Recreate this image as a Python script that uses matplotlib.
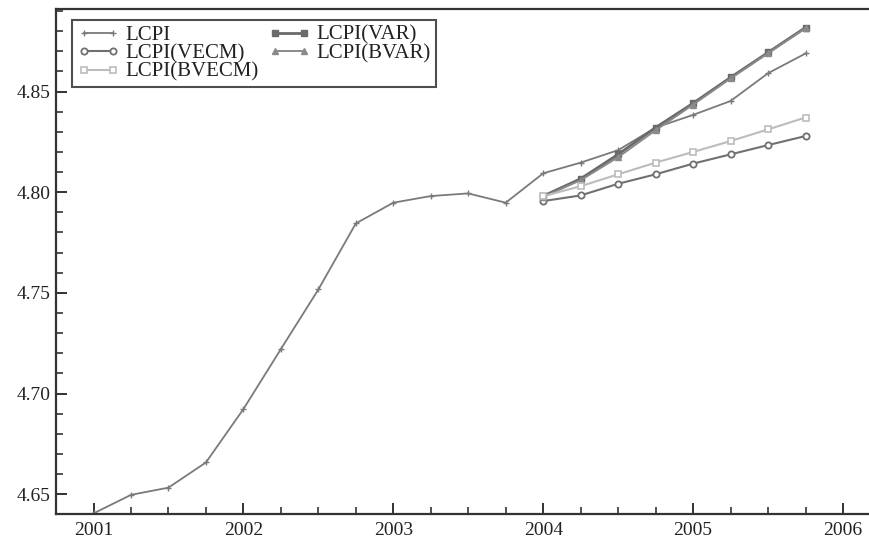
import matplotlib
matplotlib.use("Agg")
import matplotlib.pyplot as plt
from matplotlib.ticker import MultipleLocator

plt.rcParams['font.family'] = ['Liberation Serif', 'DejaVu Serif']

hist_t = [2001.0, 2001.25, 2001.5, 2001.75, 2002.0, 2002.25, 2002.5, 2002.75,
          2003.0, 2003.25, 2003.5, 2003.75, 2004.0, 2004.25, 2004.5, 2004.75,
          2005.0, 2005.25, 2005.5, 2005.75]
lcpi = [4.6405, 4.6497, 4.6533, 4.6658, 4.6923, 4.7221, 4.7517, 4.7845,
        4.7948, 4.7981, 4.7994, 4.7948, 4.8094, 4.8147, 4.8209, 4.8321,
        4.8384, 4.8453, 4.8591, 4.8689]

fc_t = [2004.0, 2004.25, 2004.5, 2004.75, 2005.0, 2005.25, 2005.5, 2005.75]
lcpi_var = [4.7981, 4.8067, 4.8188, 4.8321, 4.8442, 4.8570, 4.8694, 4.8818]
lcpi_vecm = [4.7956, 4.7984, 4.8042, 4.8089, 4.8142, 4.8188, 4.8234, 4.8279]
lcpi_bvar = [4.7976, 4.8060, 4.8174, 4.8308, 4.8435, 4.8565, 4.8690, 4.8814]
lcpi_bvecm = [4.7980, 4.8030, 4.8089, 4.8147, 4.8200, 4.8254, 4.8312, 4.8371]

fig = plt.figure(figsize=(8.7, 5.41), dpi=100)
ax = fig.add_axes([0.0644, 0.0499, 0.9356, 0.9335])

h_lcpi, = ax.plot(hist_t, lcpi, color='#7a7a7a', lw=1.3, marker='+', ms=5, mew=1.0, label='LCPI')
h_var, = ax.plot(fc_t, lcpi_var, color='#6a6a6a', lw=2.0, marker='s', ms=4.5, label='LCPI(VAR)')
h_vecm, = ax.plot(fc_t, lcpi_vecm, color='#707070', lw=1.5, marker='o', ms=4.5, mfc='white',
                  mew=1.3, label='LCPI(VECM)')
h_bvar, = ax.plot(fc_t, lcpi_bvar, color='#8a8a8a', lw=1.4, marker='^', ms=4.5, label='LCPI(BVAR)')
h_bvecm, = ax.plot(fc_t, lcpi_bvecm, color='#bcbcbc', lw=1.5, marker='s', ms=4, mfc='white',
                   mew=1.2, label='LCPI(BVECM)')

ax.set_xlim(2000.75, 2006.18)
ax.set_ylim(4.6402, 4.891)

ax.xaxis.set_major_locator(MultipleLocator(1))
ax.xaxis.set_minor_locator(MultipleLocator(0.25))
ax.yaxis.set_major_locator(MultipleLocator(0.05))
ax.yaxis.set_minor_locator(MultipleLocator(0.01))
ax.set_xticks([2001, 2002, 2003, 2004, 2005, 2006])
ax.set_xticklabels(['2001', '2002', '2003', '2004', '2005', '2006'])
ax.yaxis.set_major_formatter(matplotlib.ticker.FormatStrFormatter('%.2f'))

ax.tick_params(which='major', direction='in', length=8, width=1.3, labelsize=14,
               colors='#222222')
ax.tick_params(which='minor', direction='in', length=5, width=1.1, colors='#222222')
ax.tick_params(axis='x', pad=6)
ax.tick_params(axis='y', pad=4)

ax.spines['right'].set_visible(False)
for s in ['left', 'bottom', 'top']:
    ax.spines[s].set_linewidth(1.6)
    ax.spines[s].set_color('#333333')

handles = [h_lcpi, h_vecm, h_bvecm, h_var, h_bvar]
labels = [h.get_label() for h in handles]
leg = ax.legend(handles, labels, loc='upper left', bbox_to_anchor=(0.0197, 0.978),
                borderaxespad=0, ncol=2, fontsize=15, frameon=True, fancybox=False,
                numpoints=2, handlelength=2.0, handletextpad=0.3, labelspacing=-0.05,
                columnspacing=0.5, borderpad=0.25)
leg.get_frame().set_edgecolor('#222222')
leg.get_frame().set_linewidth(1.5)
for t in leg.get_texts():
    t.set_color('#222222')

fig.savefig('out.png', dpi=100)
